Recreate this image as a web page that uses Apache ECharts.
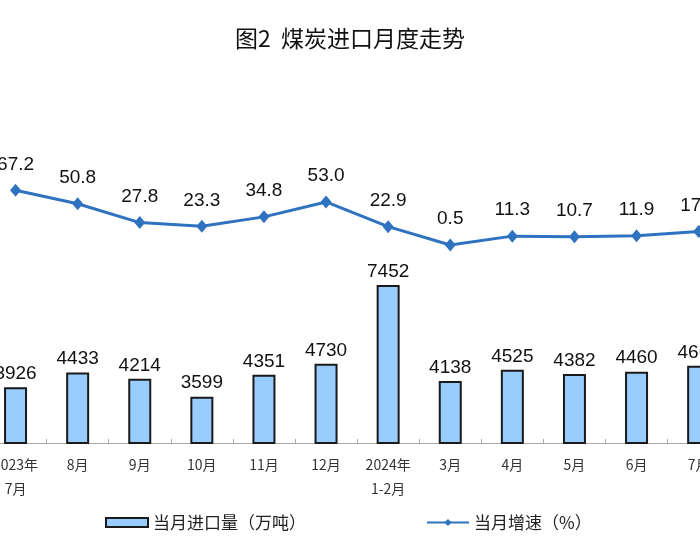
<!DOCTYPE html>
<html>
<head>
<meta charset="utf-8">
<script src="https://cdn.jsdelivr.net/npm/echarts@6/dist/echarts.min.js"></script>
<style>html,body{margin:0;padding:0;background:#fff}#c{width:700px;height:550px}</style>
</head>
<body>
<div id="c"></div>
<script>
const categories = ['2023年\n7月','8月','9月','10月','11月','12月','2024年\n1-2月','3月','4月','5月','6月','7月'];
const importVolume = [3926, 4433, 4214, 3599, 4351, 4730, 7452, 4138, 4525, 4382, 4460, 4663];
const growthRate = [67.2, 50.8, 27.8, 23.3, 34.8, 53.0, 22.9, 0.5, 11.3, 10.7, 11.9, 17.0];
const seriesNames = ['当月进口量（万吨）', '当月增速（%）'];
const titleText = '图2  煤炭进口月度走势';

const chart = echarts.init(document.getElementById('c'), null, {renderer: 'canvas'});
const font = '"Noto Sans CJK SC", "Liberation Sans", sans-serif';
chart.setOption({
  animation: false,
  backgroundColor: '#fff',
  title: {
    text: titleText, left: 'center', top: 22,
    textStyle: {fontFamily: font, fontSize: 23, fontWeight: 'normal', color: '#111'}
  },
  legend: {
    bottom: 14, left: 100, itemGap: 120, itemWidth: 42, itemHeight: 9,
    textStyle: {fontFamily: font, fontSize: 17, color: '#222'},
    data: [{name: seriesNames[0], icon: 'rect'}, {name: seriesNames[1]}]
  },
  grid: {left: -15.5, right: -29.7, top: 153, bottom: 107, containLabel: false, outerBoundsMode: 'none'},
  xAxis: {
    type: 'category', data: categories,
    axisLine: {onZero: false, lineStyle: {color: '#aaa', width: 1}},
    axisTick: {show: true, inside: true, length: 4, lineStyle: {color: '#aaa'}},
    axisLabel: {interval: 0, margin: 10, fontFamily: font, fontSize: 14, lineHeight: 24, color: '#333'}
  },
  yAxis: [
    {type: 'value', min: 2000, max: 12000, show: false, splitLine: {show: false}},
    {type: 'value', min: -241, max: 112.7, show: false, splitLine: {show: false}}
  ],
  series: [
    {
      name: seriesNames[0], type: 'bar', yAxisIndex: 0, data: importVolume, barWidth: 23,
      itemStyle: {color: '#99CCFF', borderColor: '#1a1a1a', borderWidth: 2},
      label: {show: true, position: 'top', distance: 4, fontFamily: '"Liberation Sans", Arial, sans-serif', fontSize: 19, color: '#111'}
    },
    {
      name: seriesNames[1], type: 'line', yAxisIndex: 1, data: growthRate,
      symbol: 'diamond', symbolSize: [11, 13],
      lineStyle: {color: '#2F72C0', width: 3},
      itemStyle: {color: '#2F72C0'},
      label: {show: true, position: 'top', distance: 10, fontFamily: '"Liberation Sans", Arial, sans-serif', fontSize: 19, color: '#111',
        formatter: p => p.value.toFixed(1)}
    }
  ]
});
</script>
</body>
</html>
